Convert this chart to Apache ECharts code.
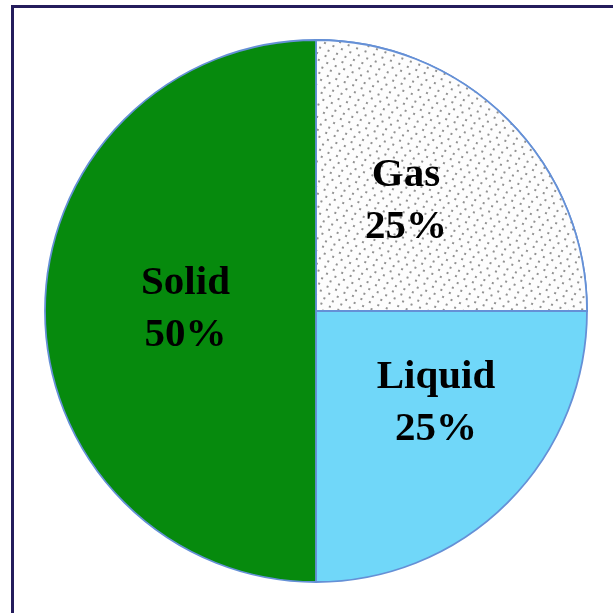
<!DOCTYPE html>
<html>
<head>
<meta charset="utf-8">
<script src="https://cdn.jsdelivr.net/npm/echarts@6/dist/echarts.min.js"></script>
<style>
    html, body { margin: 0; padding: 0; background: #fff; }
    #frame {
        position: absolute; left: 11px; top: 5px; width: 620px; height: 620px;
        border-left: 3px solid #241c5c; border-top: 3px solid #241c5c;
    }
    #main { position: absolute; left: 0; top: 0; width: 613px; height: 613px; }
</style>
</head>
<body>
<div id="frame"></div>
<div id="main"></div>
<script>
// 物质状态占比
var names = ['Gas', 'Liquid', 'Solid'];
var values = [25, 25, 50];
var percentLabels = ['25%', '25%', '50%'];

initPie();

function initPie(){
    var myChart = echarts.init(document.getElementById('main'));

    var colors = ['#fdfdfd', '#70d7f9', '#068a0d'];
    // 标签微调
    var offsets = [[-8, -12], [22, -6], [8, -2]];
    var data = [];
    for(var i=0;i<names.length;i++){
        var item = {
            name: names[i],
            value: values[i],
            itemStyle: {
                color: colors[i]
            },
            label: {
                offset: offsets[i]
            }
        };
        // Gas 用点状纹理
        if(i === 0){
            item.itemStyle.decal = {
                symbol: 'circle',
                symbolSize: 1,
                color: '#6e6e6e',
                backgroundColor: '#fdfdfd',
                dashArrayX: [[2, 7], [0, 4, 2, 3], [0, 1, 2, 6]],
                dashArrayY: [2, 4],
                rotation: 0.35
            };
        }
        data.push(item);
    }

    var option = {
        animation: false,
        series: [
            {
                type: 'pie',
                center: [316, 311],
                radius: 271,
                startAngle: 90,
                clockwise: true,
                itemStyle: {
                    borderColor: '#6590d6',
                    borderWidth: 1.8
                },
                label: {
                    position: 'inner',
                    color: '#000',
                    fontFamily: 'Liberation Serif',
                    fontWeight: 'bold',
                    fontSize: 41,
                    lineHeight: 52,
                    formatter: function(p){
                        return p.name + '\n' + percentLabels[p.dataIndex];
                    }
                },
                labelLine: { show: false },
                emphasis: { disabled: true },
                data: data
            }
        ]
    };

    myChart.setOption(option);
}
</script>
</body>
</html>
